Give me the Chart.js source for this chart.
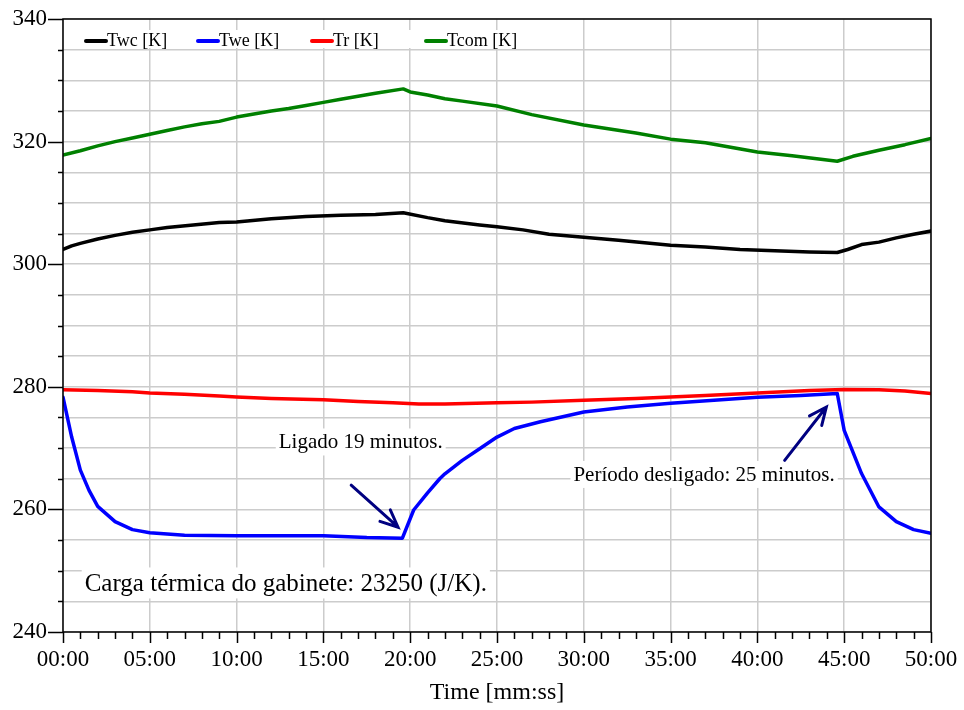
<!DOCTYPE html>
<html>
<head>
<meta charset="utf-8">
<title>Temperaturas</title>
<script src="https://cdn.jsdelivr.net/npm/chart.js@4.4.1/dist/chart.umd.min.js"></script>
<style>
  body { margin: 0; background: #fff; }
  #wrap { width: 964px; height: 710px; }
</style>
</head>
<body>
<div id="wrap"><canvas id="tempChart"></canvas></div>
<script>
// tempo em minutos, temperaturas em K
var timeTwc = [0, 0.5, 1, 2, 3, 4, 5, 6, 7.5, 9, 10, 12, 14, 16, 18, 19.6, 21, 22, 24, 25, 26.5, 28, 30, 32, 35, 37, 39, 41, 43, 44.6, 45.2, 46, 47, 48, 49, 50];
var twc     = [302.4, 303.0, 303.4, 304.1, 304.7, 305.2, 305.6, 306.0, 306.4, 306.8, 306.9, 307.4, 307.8, 308.0, 308.1, 308.4, 307.6, 307.1, 306.4, 306.1, 305.6, 304.9, 304.4, 303.9, 303.1, 302.8, 302.4, 302.2, 302.0, 301.9, 302.4, 303.2, 303.6, 304.3, 304.9, 305.4];

var timeTwe = [0, 0.5, 1, 1.5, 2, 3, 4, 5, 7, 10, 15, 17.5, 19.55, 20.2, 21, 21.7, 22, 23, 24, 25, 26, 27.5, 30, 32.5, 35, 37.5, 40, 42.5, 44.6, 45, 46, 47, 48, 49, 50];
var twe     = [278.3, 271.8, 266.4, 263.1, 260.5, 258.0, 256.7, 256.2, 255.8, 255.7, 255.7, 255.4, 255.3, 259.9, 262.7, 265.0, 265.8, 268.0, 269.9, 271.8, 273.2, 274.3, 275.9, 276.7, 277.3, 277.8, 278.3, 278.6, 278.9, 272.9, 265.85, 260.4, 258.0, 256.7, 256.1];

var timeTr = [0, 2, 4, 5, 7, 9, 10, 12, 15, 17, 19, 20.5, 22, 25, 27, 30, 33, 35, 37, 40, 43, 45, 47, 48.5, 50];
var tr     = [279.5, 279.4, 279.2, 279.0, 278.8, 278.5, 278.35, 278.1, 277.9, 277.6, 277.4, 277.2, 277.2, 277.4, 277.5, 277.8, 278.1, 278.35, 278.6, 279.0, 279.4, 279.55, 279.5, 279.3, 278.9];

var timeTcom = [0, 1, 2, 3, 4, 5, 6, 7, 8, 9, 10, 11, 12, 13, 14, 15, 16, 17, 18, 19.6, 20, 21, 22, 23, 25, 27, 30, 33, 35, 37, 40, 42, 44.6, 45.5, 47, 48.5, 50];
var tcom     = [317.8, 318.5, 319.3, 320.0, 320.6, 321.2, 321.8, 322.4, 322.9, 323.3, 324.0, 324.5, 325.0, 325.4, 325.9, 326.4, 326.9, 327.4, 327.9, 328.6, 328.1, 327.6, 327.0, 326.6, 325.8, 324.4, 322.7, 321.4, 320.4, 319.8, 318.3, 317.7, 316.8, 317.6, 318.6, 319.5, 320.5];

var SERIF = "'Liberation Serif', 'Times New Roman', serif";

function pts(xs, ys) {
    return xs.map(function (x, i) { return { x: x, y: ys[i] }; });
}

function mmss(v) {
    var m = Math.round(v);
    return (m < 10 ? '0' : '') + m + ':00';
}

// textos e setas, em coordenadas de dados
var notes = [
    { text: 'Ligado 19 minutos.', x: 17.15, y: 271.0, size: 21, align: 'center' },
    { text: 'Período desligado: 25 minutos.', x: 36.93, y: 265.7, size: 21, align: 'center' },
    { text: 'Carga térmica do gabinete: 23250 (J/K).', x: 1.25, y: 248.0, size: 25, align: 'left' }
];
var arrows = [
    { from: [16.6, 263.95], to: [19.3, 257.1] },
    { from: [41.57, 268.0], to: [43.97, 276.7] }
];

var framePlugin = {
    id: 'frame',
    afterDraw: function (chart) {
        var c = chart.ctx, a = chart.chartArea;
        var xs = chart.scales.x, ys = chart.scales.y;
        c.save();

        // legenda
        var lx = [86, 198, 312, 426];
        c.fillStyle = '#fff';
        c.fillRect(80, 30, 445, 18);
        c.font = '18px ' + SERIF;
        c.textBaseline = 'middle';
        c.textAlign = 'left';
        chart.data.datasets.forEach(function (ds, i) {
            c.strokeStyle = ds.borderColor;
            c.lineWidth = 4;
            c.lineCap = 'round';
            c.beginPath();
            c.moveTo(lx[i], 41);
            c.lineTo(lx[i] + 20, 41);
            c.stroke();
            c.fillStyle = '#000';
            c.fillText(ds.label, lx[i] + 21, 41);
        });

        // moldura
        c.strokeStyle = '#000';
        c.lineWidth = 1.5;
        c.lineCap = 'butt';
        c.strokeRect(a.left, a.top, a.right - a.left, a.bottom - a.top);

        // marcas dos eixos
        c.beginPath();
        for (var m = 0; m <= 50; m++) {
            var px = Math.round(xs.getPixelForValue(m)) + 0.5;
            c.moveTo(px, a.bottom);
            c.lineTo(px, a.bottom + (m % 5 === 0 ? 11 : 7));
        }
        for (var k = 240; k <= 340; k += 5) {
            var py = Math.round(ys.getPixelForValue(k)) + 0.5;
            c.moveTo(a.left, py);
            c.lineTo(a.left - (k % 20 === 0 ? 15 : 5), py);
        }
        c.stroke();

        // anotações
        notes.forEach(function (n) {
            c.font = n.size + 'px ' + SERIF;
            var w = c.measureText(n.text).width;
            var x = xs.getPixelForValue(n.x), y = ys.getPixelForValue(n.y);
            var left = n.align === 'center' ? x - w / 2 : x;
            c.fillStyle = '#fff';
            c.fillRect(left - 3, y - n.size / 2 - 3, w + 6, n.size + 6);
            c.fillStyle = '#000';
            c.textAlign = n.align;
            c.fillText(n.text, x, y + 1);
        });

        c.strokeStyle = '#000080';
        c.lineWidth = 3;
        c.lineCap = 'round';
        arrows.forEach(function (ar) {
            var x0 = xs.getPixelForValue(ar.from[0]), y0 = ys.getPixelForValue(ar.from[1]);
            var x1 = xs.getPixelForValue(ar.to[0]), y1 = ys.getPixelForValue(ar.to[1]);
            var ang = Math.atan2(y1 - y0, x1 - x0), len = 19, spread = 0.42;
            c.beginPath();
            c.moveTo(x0, y0);
            c.lineTo(x1, y1);
            c.moveTo(x1 - len * Math.cos(ang - spread), y1 - len * Math.sin(ang - spread));
            c.lineTo(x1, y1);
            c.lineTo(x1 - len * Math.cos(ang + spread), y1 - len * Math.sin(ang + spread));
            c.stroke();
        });

        c.restore();
    }
};

var ctx = document.getElementById('tempChart').getContext('2d');

var chart = new Chart(ctx, {
    type: 'line',

    data: {
        datasets: [{
            label: 'Twc [K]',
            data: pts(timeTwc, twc),
            borderColor: '#000000',
            order: 3
        }, {
            label: 'Twe [K]',
            data: pts(timeTwe, twe),
            borderColor: '#0000ff',
            order: 2
        }, {
            label: 'Tr [K]',
            data: pts(timeTr, tr),
            borderColor: '#ff0000',
            order: 1
        }, {
            label: 'Tcom [K]',
            data: pts(timeTcom, tcom),
            borderColor: '#008000',
            order: 4
        }]
    },

    options: {
        responsive: true,
        maintainAspectRatio: false,
        animation: false,
        layout: { padding: { top: 19, right: 33, left: 0, bottom: 0 } },
        elements: {
            point: { radius: 0 },
            line: { borderWidth: 3.5, tension: 0, fill: false, borderCapStyle: 'round', borderJoinStyle: 'round' }
        },
        plugins: {
            legend: { display: false },
            tooltip: { enabled: false }
        },
        scales: {
            x: {
                type: 'linear',
                min: 0,
                max: 50,
                afterFit: function (s) {
                    s.height = 78;
                    s.paddingLeft = 0;
                    s.paddingRight = 0;
                },
                border: { display: false },
                grid: {
                    drawTicks: false,
                    lineWidth: 1.5,
                    color: function (c) { return c.tick && c.tick.value % 5 === 0 ? '#cccccc' : 'rgba(0,0,0,0)'; }
                },
                ticks: {
                    stepSize: 1,
                    autoSkip: false,
                    maxRotation: 0,
                    padding: 14,
                    color: '#000',
                    font: { family: SERIF, size: 23 },
                    callback: function (v) { return v % 5 === 0 ? mmss(v) : ''; }
                },
                title: {
                    display: true,
                    text: 'Time [mm:ss]',
                    color: '#000',
                    font: { family: SERIF, size: 24 },
                    padding: { top: 0, bottom: 3 }
                }
            },
            y: {
                min: 240,
                max: 340,
                afterFit: function (s) {
                    s.width = 63;
                    s.paddingTop = 0;
                    s.paddingBottom = 0;
                },
                border: { display: false },
                grid: {
                    drawTicks: false,
                    lineWidth: 1.5,
                    color: '#cccccc'
                },
                ticks: {
                    stepSize: 5,
                    autoSkip: false,
                    padding: 16,
                    color: '#000',
                    font: { family: SERIF, size: 23 },
                    callback: function (v) { return v % 20 === 0 ? v : ''; }
                }
            }
        }
    },

    plugins: [framePlugin]
});
</script>
</body>
</html>
